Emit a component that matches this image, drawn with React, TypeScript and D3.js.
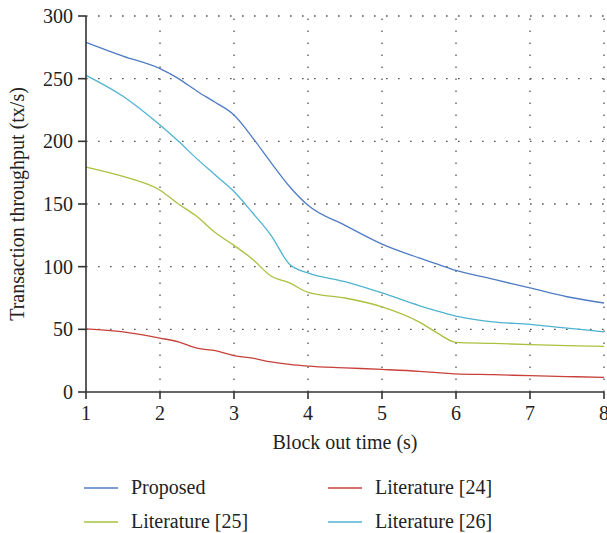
import React from 'react';
import * as d3 from 'd3';

// block out time (s)
const xs = [1, 1.5, 2, 2.25, 2.5, 2.75, 3, 3.25, 3.5, 3.75, 4, 4.5, 5, 5.5, 5.75, 6, 6.5, 7, 7.5, 8];

const proposed = [279, 268, 258, 250, 240, 231, 221, 203, 183, 164, 149, 133, 118, 107, 102, 97, 90, 83, 76, 71];
const lit24 = [50.3, 48, 43, 40, 35, 33, 29, 27, 24, 22, 20.7, 19.3, 18, 16.5, 15.5, 14.4, 13.8, 13, 12.3, 11.7];
const lit25 = [179.5, 172, 161, 150, 140, 127, 117, 106, 92.6, 87, 79.5, 75, 68, 56, 47, 39.6, 38.8, 37.8, 37, 36.4];
const lit26 = [252.7, 236, 213, 200, 186, 173, 160, 143, 125, 102, 95, 88, 79, 69, 64.5, 60.6, 56, 54, 51, 48];

const seriesNames = ['Proposed', 'Literature [24]', 'Literature [25]', 'Literature [26]'];
const seriesColors = ['#4f7cc4', '#c8403a', '#a9c23f', '#4fb3d0'];
const seriesValues = [proposed, lit24, lit25, lit26];

const xTicks = [1, 2, 3, 4, 5, 6, 7, 8];
const yTicks = [0, 50, 100, 150, 200, 250, 300];

const font = "'Liberation Serif', 'DejaVu Serif', serif";

export default function App() {
  const W = 607, H = 533;
  const left = 86, right = 604, top = 16, bottom = 392;

  const x = d3.scaleLinear().domain([1, 8]).range([left, right]);
  const y = d3.scaleLinear().domain([0, 300]).range([bottom, top]);

  const line = d3.line<number>()
    .x((_, i) => x(xs[i]))
    .y((d) => y(d))
    .curve(d3.curveMonotoneX);

  // legend order: Proposed, Lit[24] / Lit[25], Lit[26]
  const legendPos = [
    { lx: 84, ly: 488 },
    { lx: 328, ly: 488 },
    { lx: 84, ly: 522 },
    { lx: 328, ly: 522 },
  ];

  return (
    <svg width={W} height={H} style={{ position: 'absolute', left: 0, top: 0, fontFamily: font }}>
      <rect width={W} height={H} fill="#fff" />
      {/* grid */}
      <g stroke="#555" strokeWidth={1.3} strokeDasharray="1.6 10.4">
        {xTicks.slice(1).map((t) => (
          <line key={'gx' + t} x1={x(t)} x2={x(t)} y1={bottom} y2={top} />
        ))}
        {yTicks.slice(1).map((t) => (
          <line key={'gy' + t} x1={left} x2={right} y1={y(t)} y2={y(t)} />
        ))}
      </g>
      {/* series */}
      {seriesValues.map((vals, i) => (
        <path key={seriesNames[i]} d={line(vals) || ''} fill="none" stroke={seriesColors[i]} strokeWidth={1.3} />
      ))}
      {/* axes */}
      <g stroke="#333" strokeWidth={1.6}>
        <line x1={left} x2={left} y1={top} y2={bottom} />
        <line x1={left} x2={right} y1={bottom} y2={bottom} />
        {yTicks.map((t) => (
          <line key={'ty' + t} x1={left - 8} x2={left} y1={y(t)} y2={y(t)} />
        ))}
        {xTicks.map((t) => (
          <line key={'tx' + t} x1={x(t)} x2={x(t)} y1={bottom} y2={bottom + 7} />
        ))}
      </g>
      <g fontSize={20} fill="#222" style={{ fontFamily: font }}>
        {yTicks.map((t) => (
          <text key={'ly' + t} x={left - 13} y={y(t)} dy="0.35em" textAnchor="end">{t}</text>
        ))}
        {xTicks.map((t) => (
          <text key={'lx' + t} x={x(t)} y={420} textAnchor="middle">{t}</text>
        ))}
        <text x={(left + right) / 2} y={449} textAnchor="middle">Block out time (s)</text>
        <text transform={`translate(24, ${(top + bottom) / 2}) rotate(-90)`} textAnchor="middle">
          Transaction throughput (tx/s)
        </text>
      </g>
      {/* legend */}
      <g fontSize={20} fill="#222" style={{ fontFamily: font }}>
        {seriesNames.map((n, i) => (
          <g key={'lg' + n}>
            <line x1={legendPos[i].lx} x2={legendPos[i].lx + 34} y1={legendPos[i].ly} y2={legendPos[i].ly} stroke={seriesColors[i]} strokeWidth={1.3} />
            <text x={legendPos[i].lx + 47} y={legendPos[i].ly} dy="0.32em">{n}</text>
          </g>
        ))}
      </g>
    </svg>
  );
}
